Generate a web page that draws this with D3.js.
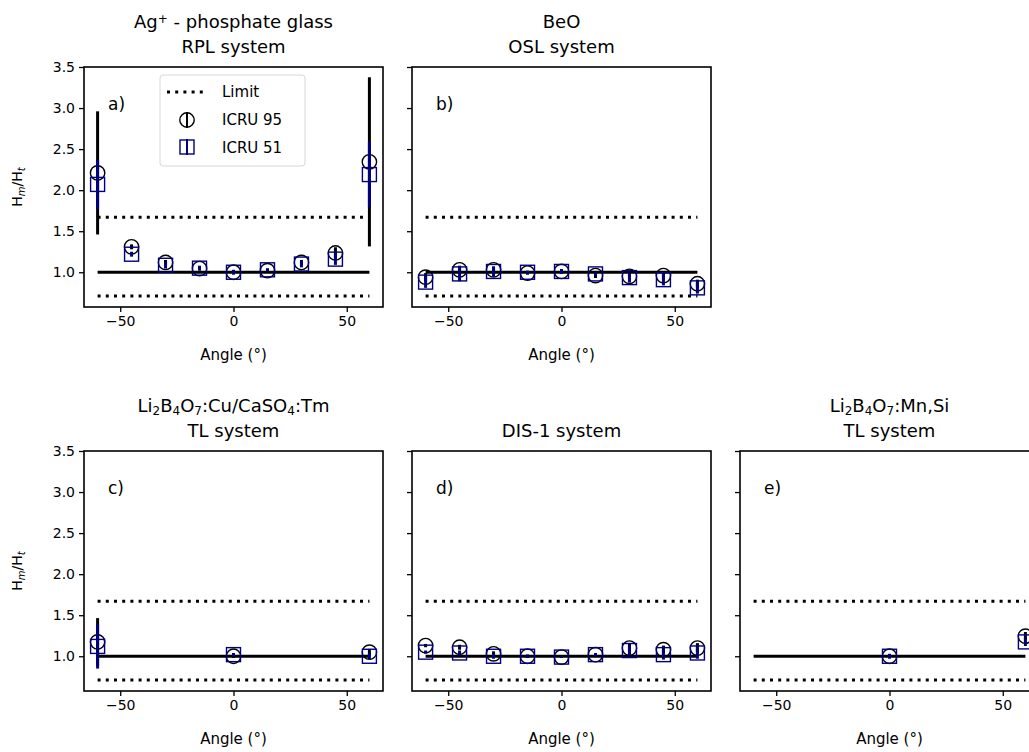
<!DOCTYPE html>
<html>
<head>
<meta charset="utf-8">
<script src="https://d3js.org/d3.v7.min.js"></script>
<style>
  body { margin: 0; background: #fff; }
  text { font-family: "DejaVu Sans", sans-serif; fill: #000; }
</style>
</head>
<body>
<div id="chart"></div>
<script>
// angles (degrees)
var anglesFull = [-60, -45, -30, -15, 0, 15, 30, 45, 60];
var anglesC = [-60, 0, 60];
var anglesE = [0, 60];

// a) Ag+ phosphate glass
var a95 = [2.21, 1.31, 1.12, 1.045, 1.0, 1.02, 1.12, 1.235, 2.345];
var a95err = [0.75, 0.03, 0.03, 0.02, 0.02, 0.02, 0.03, 0.07, 1.03];
var a51 = [2.07, 1.22, 1.085, 1.05, 1.0, 1.03, 1.10, 1.16, 2.19];
var a51err = [0.30, 0.03, 0.04, 0.03, 0.03, 0.02, 0.04, 0.07, 0.40];
// b) BeO
var b95 = [0.94, 1.03, 1.03, 0.99, 1.01, 0.96, 0.95, 0.96, 0.86];
var b95err = [0.05, 0.05, 0.04, 0.02, 0.02, 0.03, 0.04, 0.05, 0.05];
var b51 = [0.88, 0.98, 1.01, 1.0, 1.01, 0.98, 0.935, 0.91, 0.81];
var b51err = [0.07, 0.09, 0.06, 0.02, 0.03, 0.02, 0.06, 0.07, 0.07];
// c) Li2B4O7:Cu/CaSO4:Tm
var c95 = [1.175, 1.0, 1.05];
var c95err = [0.29, 0.02, 0.04];
var c51 = [1.12, 1.02, 1.0];
var c51err = [0.27, 0.02, 0.04];
// d) DIS-1
var d95 = [1.13, 1.11, 1.03, 1.0, 0.99, 1.02, 1.10, 1.08, 1.10];
var d95err = [0.02, 0.03, 0.03, 0.02, 0.01, 0.02, 0.06, 0.05, 0.06];
var d51 = [1.05, 1.04, 1.0, 1.0, 0.99, 1.02, 1.07, 1.02, 1.04];
var d51err = [0.02, 0.03, 0.03, 0.02, 0.01, 0.02, 0.06, 0.06, 0.07];
// e) Li2B4O7:Mn,Si
var e95 = [1.0, 1.245];
var e95err = [0.02, 0.05];
var e51 = [1.0, 1.175];
var e51err = [0.03, 0.05];

var limits = [0.71, 1.67];
var yTicks = [1.0, 1.5, 2.0, 2.5, 3.0, 3.5];
var xTicks = [-50, 0, 50];

var W = 1029, H = 752;
var pw = 299, ph = 240;
var navy = "#000080";

var svg = d3.select("#chart").append("svg")
    .attr("width", W).attr("height", H);

var panels = [
  {left: 84, top: 67, label: "a)", x: anglesFull, y95: a95, e95: a95err, y51: a51, e51: a51err,
   title: [[["Ag"], ["+", "sup"], [" - phosphate glass"]], [["RPL system"]]], ylab: true, legend: true},
  {left: 412, top: 67, label: "b)", x: anglesFull, y95: b95, e95: b95err, y51: b51, e51: b51err,
   title: [[["BeO"]], [["OSL system"]]]},
  {left: 84, top: 451, label: "c)", x: anglesC, y95: c95, e95: c95err, y51: c51, e51: c51err,
   title: [[["Li"], ["2", "sub"], ["B"], ["4", "sub"], ["O"], ["7", "sub"], [":Cu/CaSO"], ["4", "sub"], [":Tm"]], [["TL system"]]], ylab: true},
  {left: 412, top: 451, label: "d)", x: anglesFull, y95: d95, e95: d95err, y51: d51, e51: d51err,
   title: [[["DIS-1 system"]]]},
  {left: 740, top: 451, label: "e)", x: anglesE, y95: e95, e95: e95err, y51: e51, e51: e51err,
   title: [[["Li"], ["2", "sub"], ["B"], ["4", "sub"], ["O"], ["7", "sub"], [":Mn,Si"]], [["TL system"]]]}
];

function addRich(textSel, parts) {
  parts.forEach(function(p) {
    var t = textSel.append("tspan").text(p[0]);
    if (p[1] === "sup") t.attr("baseline-shift", "45%").style("font-size", "12px");
    if (p[1] === "sub") t.attr("baseline-shift", "-25%").style("font-size", "12px");
  });
}

panels.forEach(function(p) {
  var x = d3.scaleLinear().domain([-66, 66]).range([0, pw]);
  var y = d3.scaleLinear().domain([0.577, 3.5]).range([ph, 0]);
  var g = svg.append("g").attr("transform", "translate(" + p.left + "," + p.top + ")");

  // limit lines
  limits.forEach(function(l) {
    g.append("line")
      .attr("x1", x(-60)).attr("x2", x(60))
      .attr("y1", y(l)).attr("y2", y(l))
      .attr("stroke", "#000").attr("stroke-width", 3)
      .attr("stroke-dasharray", "3,5.2");
  });
  // reference line at 1
  g.append("line")
    .attr("x1", x(-60)).attr("x2", x(60))
    .attr("y1", y(1)).attr("y2", y(1))
    .attr("stroke", "#000").attr("stroke-width", 3);

  var d95 = p.x.map(function(v, i) { return {x: v, y: p.y95[i], e: p.e95[i]}; });
  var d51 = p.x.map(function(v, i) { return {x: v, y: p.y51[i], e: p.e51[i]}; });

  // ICRU 95: circles + black error bars
  g.selectAll(".c95").data(d95).enter().append("circle")
    .attr("cx", function(d) { return x(d.x); })
    .attr("cy", function(d) { return y(d.y); })
    .attr("r", 7.2)
    .attr("fill", "none").attr("stroke", "#000").attr("stroke-width", 1.4);
  g.selectAll(".e95").data(d95).enter().append("line")
    .attr("x1", function(d) { return x(d.x); })
    .attr("x2", function(d) { return x(d.x); })
    .attr("y1", function(d) { return y(d.y - d.e); })
    .attr("y2", function(d) { return y(d.y + d.e); })
    .attr("stroke", "#000").attr("stroke-width", 3);

  // ICRU 51: squares + navy error bars
  g.selectAll(".s51").data(d51).enter().append("rect")
    .attr("x", function(d) { return x(d.x) - 7; })
    .attr("y", function(d) { return y(d.y) - 7; })
    .attr("width", 14).attr("height", 14)
    .attr("fill", "none").attr("stroke", navy).attr("stroke-width", 1.4);
  g.selectAll(".e51").data(d51).enter().append("line")
    .attr("x1", function(d) { return x(d.x); })
    .attr("x2", function(d) { return x(d.x); })
    .attr("y1", function(d) { return y(d.y - d.e); })
    .attr("y2", function(d) { return y(d.y + d.e); })
    .attr("stroke", navy).attr("stroke-width", 3);

  // frame
  g.append("rect").attr("width", pw).attr("height", ph)
    .attr("fill", "none").attr("stroke", "#000").attr("stroke-width", 1.6);

  // axes
  var xa = g.append("g").attr("transform", "translate(0," + ph + ")")
    .call(d3.axisBottom(x).tickValues(xTicks).tickSize(5).tickPadding(4)
      .tickFormat(function(d) { return d < 0 ? "\u2212" + Math.abs(d) : d; }));
  var ya = g.append("g")
    .call(d3.axisLeft(y).tickValues(yTicks).tickSize(5).tickPadding(4)
      .tickFormat(p.ylab ? d3.format(".1f") : function() { return ""; }));
  [xa, ya].forEach(function(a) {
    a.select(".domain").remove();
    a.selectAll(".tick line").attr("stroke-width", 1.3);
    a.selectAll("text").style("font-size", "14px").style("font-family", "DejaVu Sans");
  });

  g.append("text").attr("x", pw / 2).attr("y", ph + 53)
    .attr("text-anchor", "middle").style("font-size", "15px").text("Angle (\u00b0)");

  // panel letter
  g.append("text").attr("x", 24).attr("y", 43)
    .style("font-size", "17px").text(p.label);

  // title
  var lines = p.title;
  lines.forEach(function(parts, i) {
    var t = g.append("text").attr("x", pw / 2)
      .attr("y", -14 - (lines.length - 1 - i) * 25)
      .attr("text-anchor", "middle").style("font-size", "18px");
    addRich(t, parts);
  });

  if (p.ylab) {
    var yl = g.append("text")
      .attr("transform", "translate(-62," + (ph / 2) + ") rotate(-90)")
      .attr("text-anchor", "middle").style("font-size", "14px");
    yl.append("tspan").text("H");
    yl.append("tspan").text("m").attr("baseline-shift", "-25%").style("font-size", "10px").style("font-style", "italic");
    yl.append("tspan").text("/H");
    yl.append("tspan").text("t").attr("baseline-shift", "-25%").style("font-size", "10px").style("font-style", "italic");
  }

  if (p.legend) {
    var lg = g.append("g").attr("transform", "translate(76,8)");
    lg.append("rect").attr("width", 145).attr("height", 91).attr("rx", 3)
      .attr("fill", "#fff").attr("fill-opacity", 0.8)
      .attr("stroke", "#d6d6d6").attr("stroke-width", 1);
    lg.append("line").attr("x1", 7).attr("x2", 47).attr("y1", 17).attr("y2", 17)
      .attr("stroke", "#000").attr("stroke-width", 3).attr("stroke-dasharray", "3,5.2");
    lg.append("circle").attr("cx", 27).attr("cy", 45).attr("r", 7.2)
      .attr("fill", "none").attr("stroke", "#000").attr("stroke-width", 1.4);
    lg.append("line").attr("x1", 27).attr("x2", 27).attr("y1", 37).attr("y2", 53)
      .attr("stroke", "#000").attr("stroke-width", 2);
    lg.append("rect").attr("x", 20).attr("y", 65).attr("width", 14).attr("height", 14)
      .attr("fill", "none").attr("stroke", navy).attr("stroke-width", 1.4);
    lg.append("line").attr("x1", 27).attr("x2", 27).attr("y1", 64).attr("y2", 80)
      .attr("stroke", navy).attr("stroke-width", 2);
    var labels = ["Limit", "ICRU 95", "ICRU 51"];
    labels.forEach(function(s, i) {
      lg.append("text").attr("x", 62).attr("y", 22 + i * 28)
        .style("font-size", "15px").text(s);
    });
  }
});
</script>
</body>
</html>
